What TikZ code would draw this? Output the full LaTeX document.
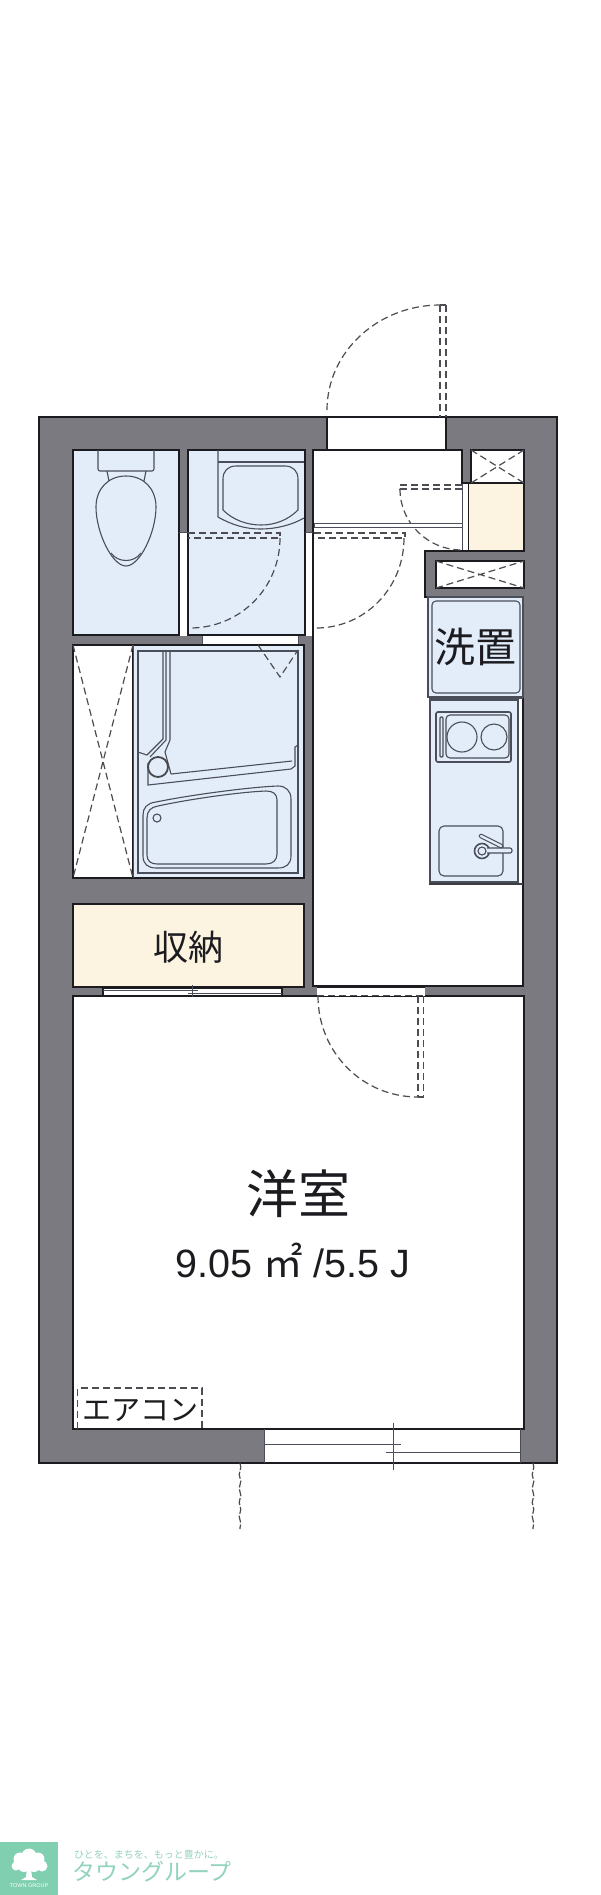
\documentclass[tikz,border=0pt]{standalone}
\usepackage{fontspec}
\setmainfont{Liberation Sans}
\newfontfamily\jp{Noto Sans CJK JP}
\usetikzlibrary{decorations.pathmorphing}
\definecolor{wallc}{HTML}{7B7A80}
\definecolor{bluec}{HTML}{E3EDFA}
\definecolor{creamc}{HTML}{FDF3E1}
\definecolor{linec}{HTML}{1B1B20}
\definecolor{fixc}{HTML}{4A4E58}
\definecolor{dashc}{HTML}{4C4C52}
\definecolor{logoc}{HTML}{7FCFB0}
\definecolor{logot}{HTML}{93D3BC}
\tikzset{
  wall/.style={fill=wallc,draw=linec,line width=1.8pt},
  roomline/.style={draw=linec,line width=2pt},
  fixture/.style={draw=fixc,line width=1.1pt},
  dashline/.style={draw=dashc,line width=1.2pt,dash pattern=on 7pt off 4pt},
  thinline/.style={draw=fixc,line width=1pt},
  label/.style={inner sep=0pt,text=linec},
}
\begin{document}
\begin{tikzpicture}[x=1pt,y=-1pt,line join=miter]
\useasboundingbox (0,0) rectangle (600,1895);
\fill[white] (0,0) rectangle (600,1895);
% walls
\draw[wall] (39,417) rectangle (557,1463);
% rooms
\draw[roomline,fill=bluec] (73,450) rectangle (179,635);
\draw[roomline,fill=bluec] (188,450) rectangle (305,635);
\draw[roomline,fill=white] (313,450) -- (462,450) -- (462,483) -- (468,483) -- (468,551) -- (425,551) -- (425,597) -- (523,597) -- (523,986) -- (313,986) -- cycle;
\draw[roomline,fill=bluec] (133,645) rectangle (304,878);
\draw[roomline,fill=white] (73,645) rectangle (133,878);
\draw[thinline] (133,645) -- (133,878);
\draw[roomline,fill=creamc] (73,904) rectangle (304,987);
\draw[roomline,fill=white] (73,996) rectangle (524,1429);
% wall openings
\fill[white] (179.8,532) rectangle (187.2,635.5);
\draw[thinline] (179,532) -- (188,532);
\fill[white] (305.8,532) rectangle (312.2,635.5);
\draw[thinline] (305,532) -- (313,532);
\fill[white] (202,636) rectangle (298,644);
\draw[thinline] (202,636) -- (202,644) (298,636) -- (298,644);
\filldraw[fill=white,draw=linec,line width=1.2pt] (327,417) rectangle (446,450);
\fill[white] (317,987) rectangle (425,995.5);
\draw[draw=linec,line width=1.2pt] (317,987) -- (425,987);
\filldraw[fill=white,draw=linec,line width=1.2pt] (103,988) rectangle (282,995.5);
% window
\fill[white] (264.5,1430) rectangle (520,1463);
\draw[thinline] (264.5,1429) -- (264.5,1463) (520,1429) -- (520,1463);
\draw[draw=linec,line width=1.2pt] (264.5,1463) -- (520,1463);
\draw[thinline] (264.5,1444) -- (401,1444);
\draw[thinline] (386,1452) -- (520,1452);
\draw[thinline] (393,1423) -- (393,1470);
% closet sliding door of storage
\draw[thinline] (103,990.5) -- (198,990.5);
\draw[thinline] (188,993) -- (282,993);
\draw[thinline] (192,985) -- (192,997);
% right side boxes
\draw[roomline,fill=white] (471,450) rectangle (524,483);
\draw[roomline,fill=creamc] (468,483) rectangle (524,551);
\fill[white] (463,484) rectangle (468,550);
\draw[thinline] (462.5,484) -- (462.5,550);
\draw[roomline,fill=white] (436,561) rectangle (524,588);
\draw[dashline] (471,450) -- (524,483) (524,450) -- (471,483);
\draw[dashline] (436,561) -- (524,588) (436,588) -- (524,561);
\draw[dashline] (73,645) -- (133,878) (133,645) -- (73,878);
% doors
\coordinate (entA) at (327,410);
\coordinate (entB) at (440,305);
\draw[dashline] (entA) .. controls (327,352) and (378,305) .. (entB);
\draw[dashline] (440,305) -- (440,417) (446,305) -- (446,417);
\draw[dashc,line width=1.2pt] (440,305) -- (446,305);
\draw[dashline] (400,489) .. controls (400,523) and (428,550) .. (462,550);
\draw[dashline] (462,485) -- (400,485) -- (400,489) -- (462,489);
\draw[fill=white,draw=fixc,line width=1pt] (314,523) rectangle (462,527);
\draw[dashline] (404,538) .. controls (404,588) and (365,628) .. (316,628);
\draw[dashline] (314,533) -- (405,533) -- (405,538) -- (314,538);
\draw[dashline] (280,538) .. controls (280,588) and (240,628) .. (190,628);
\draw[dashline] (188,533) -- (280,533) -- (280,538) -- (188,538);
\draw[dashline] (318,996) .. controls (318,1052) and (362,1097) .. (418,1097);
\draw[dashline] (418,996) -- (418,1097) (423.5,996) -- (423.5,1097);
\draw[dashc,line width=1.2pt] (418,1097) -- (424,1097);
\draw[dashline] (317,995.5) -- (425,995.5);
% toilet
\draw[fixture,rounded corners=2pt] (98,450) -- (98,471) -- (154,471) -- (154,450);
\draw[fixture] (107,471) -- (109,481) (146,471) -- (144,481);
\draw[fixture] (126,476) .. controls (108,476) and (96,489) .. (96,507) .. controls (96,532) and (112,566) .. (126,566) .. controls (140,566) and (156,532) .. (156,507) .. controls (156,489) and (144,476) .. (126,476) -- cycle;
\draw[fixture] (111,553) .. controls (118,563) and (134,563) .. (141,553);
% washbasin
\draw[fixture] (218,450) -- (218,517) .. controls (232,525) and (246,529) .. (260,529) .. controls (276,529) and (292,525) .. (304,518);
\draw[fixture] (218,462) -- (304,462);
\draw[fixture] (236,466) -- (285,466) .. controls (293,466) and (298,471) .. (298,479) -- (298,510) .. controls (288,520) and (275,525) .. (261,525) .. controls (247,525) and (233,520) .. (223,510) -- (223,479) .. controls (223,471) and (228,466) .. (236,466) -- cycle;
% bath
\draw[fixture] (138,651) rectangle (298,873);
\draw[fixture] (163,651) -- (163,739) -- (147,755);
\draw[fixture] (166,651) -- (166,740) -- (150,757);
\draw[fixture] (170,651) -- (170,740) -- (165,752);
\draw[fixture] (138,752) -- (147,755);
\draw[fixture] (148,763) -- (148,785) -- (291,769) -- (295,766) -- (295,747) -- (298,745);
\draw[fixture] (171,774) -- (292,761);
\draw[fixture] (165,752) -- (171,774);
\draw[draw=linec!80!white,line width=1.8pt,fill=bluec] (158,767) circle (10);
\draw[fixture] (156,802) .. controls (147,803) and (143,808) .. (143,815) -- (143,856) .. controls (143,864) and (148,868) .. (156,868) -- (278,868) .. controls (286,868) and (291,864) .. (291,856) -- (291,799) .. controls (291,791) and (286,786) .. (278,786) .. controls (250,787) and (190,795) .. (156,802) -- cycle;
\draw[fixture] (158,806) .. controls (151,807) and (147,811) .. (147,818) -- (147,855) .. controls (147,861) and (151,864) .. (157,864) -- (266,864) .. controls (273,864) and (277,860) .. (277,854) -- (277,800) .. controls (277,794) and (273,791) .. (266,791) .. controls (240,792) and (190,799) .. (158,806) -- cycle;
\draw[fixture] (157,818) circle (4);
\draw[dashline] (258,645) -- (280,677) -- (298,650);
% washing pan
\draw[draw=fixc,line width=1.3pt,fill=bluec] (428,597) rectangle (523,697);
\draw[fixture,rounded corners=4pt] (432,601) rectangle (520,693);
% kitchen
\draw[draw=fixc,line width=1.3pt,fill=bluec] (430,700) rectangle (518,882);
\draw[draw=linec!85!white,line width=2pt] (429,884) -- (523,884);
\draw[draw=fixc,line width=1.3pt] (429,698) -- (523,698);
\draw[draw=fixc,line width=1.6pt,rounded corners=2pt] (436,712) rectangle (511,762);
\draw[fixture,rounded corners=4pt] (446,715) rectangle (509,758);
\draw[fixture,rounded corners=1pt] (440,717) rectangle (443,757);
\draw[fixture] (462,737) circle (15);
\draw[fixture] (494,737) circle (13);
\draw[fixture,rounded corners=5pt] (439,826) rectangle (503,876);
\draw[draw=fixc,line width=1.6pt] (482,851) circle (7.5);
\draw[fixture] (482,851) circle (4);
\draw[fixture,fill=bluec,rounded corners=2pt] (487,848) -- (512,848) -- (512,853) -- (487,853);
\draw[draw=fixc,line width=4.5pt,line cap=round] (481,836) -- (501,846);
\draw[draw=bluec,line width=2.4pt,line cap=round] (481,836) -- (501,846);
% aircon
\draw[dashline] (77.5,1429) -- (77.5,1388) -- (202,1388) -- (202,1429);
% outside lines
\coordinate (wigA) at (240,1463);
\coordinate (wigB) at (240,1529);
\coordinate (wigC) at (533,1463);
\coordinate (wigD) at (533,1529);
\draw[dashc,line width=1.2pt,dash pattern=on 7pt off 2pt,decorate,decoration={snake,segment length=14pt,amplitude=0.8pt}] (wigA) -- (wigB);
\draw[dashc,line width=1.2pt,dash pattern=on 7pt off 2pt,decorate,decoration={snake,segment length=14pt,amplitude=0.8pt}] (wigC) -- (wigD);
% texts
\node[label,font=\jp\fontsize{41}{41}\selectfont] (lblwash) at (475,647) {洗置};
\node[label,font=\jp\fontsize{35}{35}\selectfont] (lblstore) at (188,947) {収納};
\node[label,font=\jp\fontsize{52}{52}\selectfont] (lblroom) at (298,1194) {洋室};
\node[label,font=\fontsize{39.5}{39.5}\selectfont] (lblarea) at (293,1260) {9.05 {\jp ㎡} /5.5 J};
\node[label,font=\jp\fontsize{29}{29}\selectfont] (lblac) at (140,1410) {エアコン};
% logo
\fill[logoc] (0,1842) rectangle (58,1895);
\fill[white] (29,1856) circle (7.5) (20,1859) circle (6.5) (38,1859) circle (6.5) (16,1866) circle (4.5) (42,1866) circle (5.5) (24,1866) circle (6) (34,1866) circle (6);
\fill[white] (27,1868) -- (31,1868) -- (32,1877) -- (37,1880) -- (21,1880) -- (26,1877) -- cycle;
\node[inner sep=0pt,text=white,font=\fontsize{5.5}{5.5}\selectfont] (logosmall) at (29,1886) {TOWN GROUP};
\node[inner sep=0pt,text=logot,font=\jp\fontsize{10}{10}\selectfont] (logotag) at (149,1855) {ひとを、まちを、もっと豊かに。};
\node[inner sep=0pt,text=logot,font=\jp\fontsize{23}{23}\selectfont] (logoname) at (152,1872) {タウングループ};
\end{tikzpicture}
\end{document}
